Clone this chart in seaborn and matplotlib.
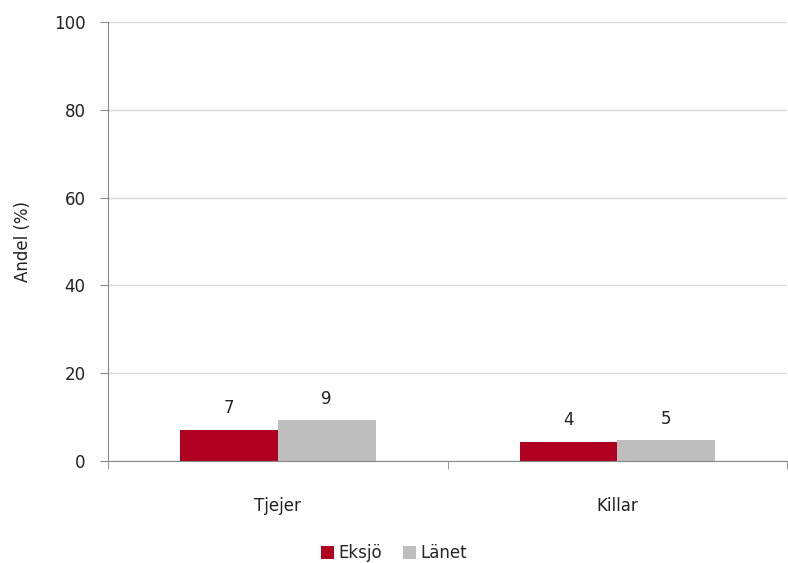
import matplotlib
matplotlib.use("Agg")
import matplotlib.pyplot as plt
import pandas as pd
import seaborn as sns
from matplotlib.patches import Patch

groups = ["Tjejer", "Killar"]
series = ["Eksjö", "Länet"]
eksjo = [7.1, 4.4]
lanet = [9.3, 4.8]
colors = ["#AF0021", "#BEBEBE"]

df = pd.DataFrame({
    "grupp": groups * 2,
    "serie": [series[0]] * 2 + [series[1]] * 2,
    "andel": eksjo + lanet,
})

sns.set_style("white")
plt.rcParams["font.family"] = ["DejaVu Sans"]

fig = plt.figure(figsize=(7.88, 5.63), dpi=100)
ax = fig.add_axes([0.137, 0.181, 0.862, 0.78])

sns.barplot(data=df, x="grupp", y="andel", hue="serie", order=groups,
            hue_order=series, palette=colors, width=0.576, saturation=1,
            linewidth=0, legend=False, ax=ax)

for cont in ax.containers:
    ax.bar_label(cont, labels=[f"{round(b.get_height())}" for b in cont],
                 padding=9, fontsize=12, color="#222222")

ax.set_ylim(0, 100)
ax.set_xlim(-0.5, 1.5)
ax.set_yticks([0, 20, 40, 60, 80, 100])
ax.yaxis.grid(True, color="#DADADA", linewidth=1)
ax.set_axisbelow(True)
ax.set_xlabel("")
ax.set_ylabel("Andel (%)", fontsize=12, color="#222222", labelpad=16)

for s in ["top", "right"]:
    ax.spines[s].set_visible(False)
for s in ["left", "bottom"]:
    ax.spines[s].set_color("#888888")

ax.tick_params(axis="y", length=6, color="#888888", labelsize=12,
               labelcolor="#222222", pad=10, left=True)
ax.tick_params(axis="x", length=0, labelsize=12, labelcolor="#222222", pad=26)
ax.set_xticks([-0.5, 0.5, 1.5], minor=True)
ax.tick_params(axis="x", which="minor", length=6, color="#888888", bottom=True)

handles = [Patch(facecolor=c, edgecolor="none") for c in colors]
fig.legend(handles, series, loc="lower center", bbox_to_anchor=(0.5, -0.025),
           ncol=2, frameon=False, fontsize=12, handlelength=0.8,
           handleheight=0.8, handletextpad=0.3, columnspacing=1.2)

plt.savefig("out.png", dpi=100)
plt.close(fig)
